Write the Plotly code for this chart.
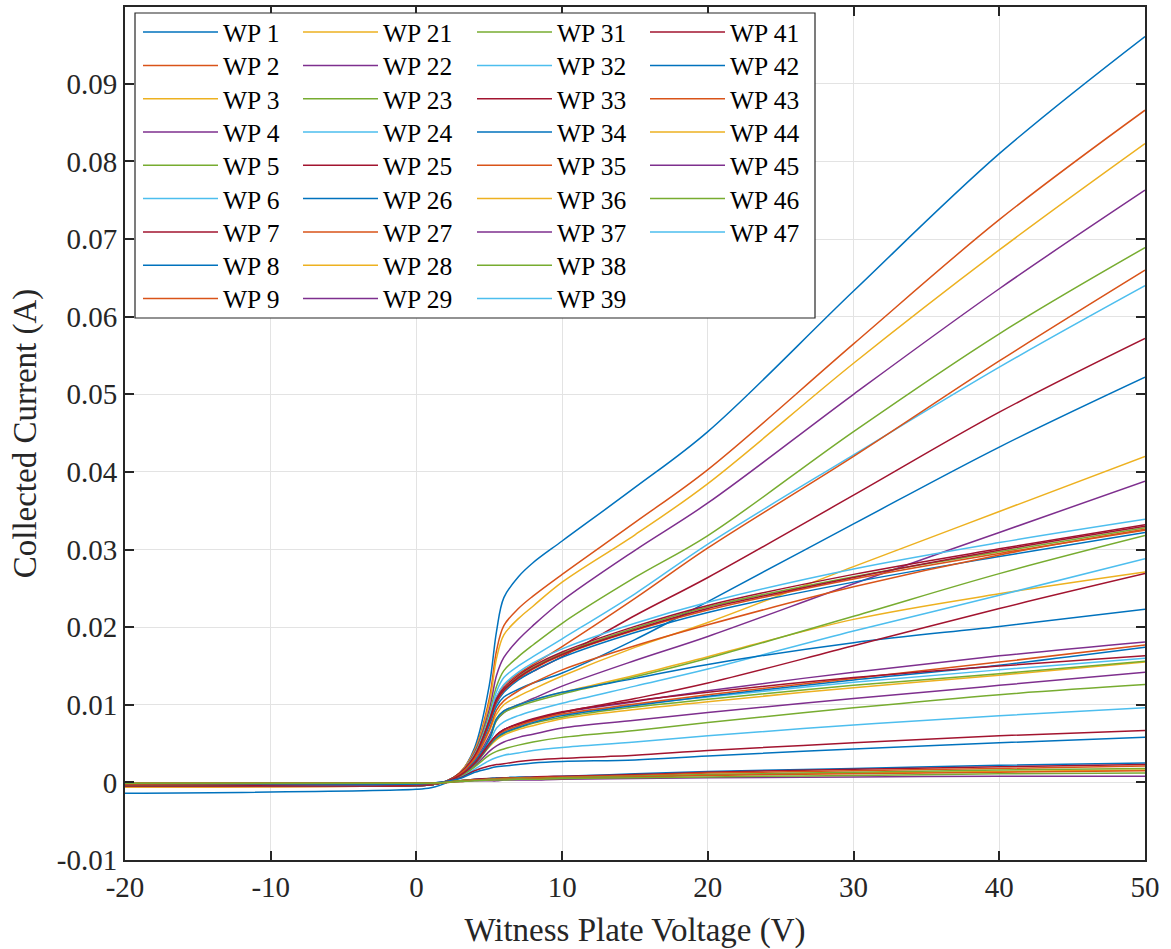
import plotly.graph_objects as go

# ---------------- data ----------------
VOLT = [-20, 0, 1, 2, 3, 4, 5, 5.5, 6, 7, 8, 10, 15, 20, 30, 40, 50]

wp1 = [-0.0014, -0.0009, -0.0007, -0.0001, 0.0012, 0.0045, 0.0125, 0.0195, 0.0238, 0.0265, 0.0283, 0.0311, 0.0380, 0.0452, 0.0633, 0.0810, 0.0961]
wp2 = [-0.0006, -0.0004, -0.0003, 0.0001, 0.0013, 0.0042, 0.0108, 0.0170, 0.0202, 0.0224, 0.0240, 0.0268, 0.0335, 0.0403, 0.0565, 0.0725, 0.0866]
wp3 = [-0.0006, -0.0004, -0.0003, 0.0001, 0.0013, 0.0041, 0.0102, 0.0160, 0.0190, 0.0211, 0.0227, 0.0258, 0.0319, 0.0385, 0.0540, 0.0686, 0.0823]
wp4 = [-0.0005, -0.0004, -0.0003, 0.0001, 0.0012, 0.0039, 0.0094, 0.0138, 0.0161, 0.0184, 0.0202, 0.0234, 0.0299, 0.0360, 0.0500, 0.0636, 0.0763]
wp5 = [-0.0005, -0.0004, -0.0003, 0.0001, 0.0012, 0.0037, 0.0088, 0.0124, 0.0144, 0.0162, 0.0177, 0.0205, 0.0264, 0.0318, 0.0452, 0.0578, 0.0689]
wp6 = [-0.0005, -0.0004, -0.0003, 0.0001, 0.0012, 0.0036, 0.0084, 0.0117, 0.0135, 0.0150, 0.0162, 0.0185, 0.0243, 0.0307, 0.0422, 0.0535, 0.0640]
wp7 = [-0.0005, -0.0004, -0.0003, 0.0001, 0.0011, 0.0034, 0.0078, 0.0106, 0.0120, 0.0133, 0.0143, 0.0162, 0.0215, 0.0264, 0.0370, 0.0477, 0.0572]
wp8 = [-0.0005, -0.0004, -0.0003, 0.0001, 0.0011, 0.0032, 0.0073, 0.0098, 0.0110, 0.0120, 0.0128, 0.0141, 0.0184, 0.0233, 0.0333, 0.0432, 0.0522]
wp9 = [-0.0005, -0.0004, -0.0003, 0.0001, 0.0012, 0.0035, 0.0080, 0.0110, 0.0125, 0.0140, 0.0152, 0.0175, 0.0237, 0.0302, 0.0420, 0.0543, 0.0660]

wp21 = [-0.0004, -0.0003, -0.0002, 0.0001, 0.0011, 0.0030, 0.0066, 0.0088, 0.0100, 0.0111, 0.0120, 0.0137, 0.0174, 0.0206, 0.0278, 0.0349, 0.0420]
wp22 = [-0.0004, -0.0003, -0.0002, 0.0001, 0.0010, 0.0028, 0.0060, 0.0080, 0.0090, 0.0100, 0.0108, 0.0124, 0.0157, 0.0188, 0.0256, 0.0322, 0.0388]
wp23 = [-0.0005, -0.0004, -0.0003, 0.0001, 0.0012, 0.0034, 0.0079, 0.0106, 0.0120, 0.0136, 0.0148, 0.0166, 0.0199, 0.0226, 0.0265, 0.0297, 0.0328]
wp24 = [-0.0005, -0.0004, -0.0003, 0.0001, 0.0012, 0.0035, 0.0082, 0.0111, 0.0126, 0.0142, 0.0154, 0.0172, 0.0205, 0.0232, 0.0275, 0.0309, 0.0339]
wp25 = [-0.0005, -0.0004, -0.0003, 0.0001, 0.0012, 0.0034, 0.0080, 0.0108, 0.0122, 0.0138, 0.0150, 0.0168, 0.0201, 0.0228, 0.0268, 0.0301, 0.0332]
wp26 = [-0.0005, -0.0004, -0.0003, 0.0001, 0.0012, 0.0033, 0.0077, 0.0102, 0.0116, 0.0132, 0.0143, 0.0161, 0.0193, 0.0219, 0.0258, 0.0291, 0.0322]
wp27 = [-0.0005, -0.0004, -0.0003, 0.0001, 0.0012, 0.0034, 0.0078, 0.0104, 0.0118, 0.0134, 0.0146, 0.0164, 0.0196, 0.0222, 0.0262, 0.0295, 0.0325]
wp28 = [-0.0004, -0.0003, -0.0002, 0.0001, 0.0010, 0.0027, 0.0056, 0.0082, 0.0092, 0.0100, 0.0106, 0.0116, 0.0138, 0.0162, 0.0210, 0.0243, 0.0271]
wp29 = [-0.0003, -0.0002, -0.0002, 0.0001, 0.0009, 0.0025, 0.0050, 0.0061, 0.0068, 0.0075, 0.0081, 0.0090, 0.0104, 0.0118, 0.0142, 0.0163, 0.0181]

wp31 = [-0.0004, -0.0003, -0.0002, 0.0001, 0.0010, 0.0027, 0.0055, 0.0080, 0.0090, 0.0098, 0.0104, 0.0114, 0.0136, 0.0160, 0.0214, 0.0269, 0.0318]
wp32 = [-0.0004, -0.0003, -0.0002, 0.0001, 0.0009, 0.0026, 0.0052, 0.0070, 0.0078, 0.0086, 0.0092, 0.0102, 0.0124, 0.0146, 0.0195, 0.0241, 0.0288]
wp33 = [-0.0005, -0.0004, -0.0003, 0.0001, 0.0012, 0.0034, 0.0079, 0.0106, 0.0119, 0.0135, 0.0147, 0.0165, 0.0197, 0.0224, 0.0264, 0.0299, 0.0330]
wp34 = [-0.0004, -0.0003, -0.0002, 0.0001, 0.0010, 0.0027, 0.0056, 0.0082, 0.0092, 0.0100, 0.0106, 0.0116, 0.0134, 0.0152, 0.0180, 0.0201, 0.0223]
wp35 = [-0.0004, -0.0003, -0.0002, 0.0001, 0.0011, 0.0031, 0.0068, 0.0093, 0.0105, 0.0118, 0.0128, 0.0145, 0.0176, 0.0203, 0.0252, 0.0293, 0.0326]
wp36 = [-0.0003, -0.0002, -0.0002, 0.0001, 0.0008, 0.0023, 0.0046, 0.0055, 0.0061, 0.0068, 0.0073, 0.0082, 0.0094, 0.0104, 0.0122, 0.0138, 0.0155]
wp37 = [-0.0003, -0.0002, -0.0002, 0.0001, 0.0008, 0.0021, 0.0040, 0.0047, 0.0052, 0.0058, 0.0062, 0.0070, 0.0080, 0.0090, 0.0108, 0.0125, 0.0142]
wp38 = [-0.0003, -0.0002, -0.0002, 0.0001, 0.0008, 0.0023, 0.0047, 0.0057, 0.0063, 0.0070, 0.0076, 0.0084, 0.0097, 0.0107, 0.0125, 0.0140, 0.0156]
wp39 = [-0.0003, -0.0002, -0.0002, 0.0001, 0.0008, 0.0024, 0.0048, 0.0059, 0.0065, 0.0072, 0.0078, 0.0087, 0.0100, 0.0110, 0.0129, 0.0145, 0.0160]

wp41 = [-0.0004, -0.0003, -0.0002, 0.0001, 0.0009, 0.0024, 0.0048, 0.0061, 0.0068, 0.0075, 0.0080, 0.0090, 0.0108, 0.0128, 0.0176, 0.0224, 0.0269]
wp42 = [-0.0003, -0.0002, -0.0002, 0.0001, 0.0008, 0.0024, 0.0048, 0.0058, 0.0064, 0.0071, 0.0077, 0.0086, 0.0099, 0.0111, 0.0132, 0.0151, 0.0174]
wp43 = [-0.0003, -0.0002, -0.0002, 0.0001, 0.0009, 0.0025, 0.0049, 0.0060, 0.0066, 0.0073, 0.0079, 0.0088, 0.0101, 0.0113, 0.0134, 0.0155, 0.0177]
wp44 = [-0.0001, -0.0001, -0.0001, 0.0000, 0.0002, 0.0003, 0.0004, 0.0004, 0.0004, 0.0005, 0.0005, 0.0006, 0.0008, 0.0010, 0.0012, 0.0014, 0.0016]
wp45 = [-0.0001, -0.0001, -0.0001, 0.0000, 0.0001, 0.0002, 0.0002, 0.0002, 0.0003, 0.0003, 0.0003, 0.0004, 0.0005, 0.0006, 0.0007, 0.0008, 0.0008]
wp46 = [-0.0003, -0.0002, -0.0002, 0.0001, 0.0007, 0.0020, 0.0035, 0.0040, 0.0043, 0.0048, 0.0052, 0.0058, 0.0067, 0.0077, 0.0096, 0.0113, 0.0126]
wp47 = [-0.0002, -0.0002, -0.0001, 0.0001, 0.0006, 0.0017, 0.0028, 0.0032, 0.0035, 0.0038, 0.0041, 0.0045, 0.0052, 0.0060, 0.0074, 0.0086, 0.0096]

# further curves visible in the plot that have no legend entry
extra_darkred_a = [-0.0003, -0.0002, -0.0002, 0.0001, 0.0009, 0.0025, 0.0050, 0.0061, 0.0068, 0.0076, 0.0082, 0.0091, 0.0105, 0.0116, 0.0135, 0.0150, 0.0163]
extra_darkred_b = [-0.0002, -0.0001, -0.0001, 0.0001, 0.0006, 0.0015, 0.0021, 0.0023, 0.0024, 0.0027, 0.0029, 0.0031, 0.0035, 0.0041, 0.0051, 0.0060, 0.0067]
extra_blue_a = [-0.0002, -0.0001, -0.0001, 0.0001, 0.0005, 0.0013, 0.0018, 0.0020, 0.0021, 0.0023, 0.0025, 0.0027, 0.0029, 0.0034, 0.0043, 0.0051, 0.0058]
extra_blue_b = [-0.0002, -0.0002, -0.0001, 0.0000, 0.0002, 0.0004, 0.0005, 0.0006, 0.0006, 0.0007, 0.0007, 0.0008, 0.0011, 0.0014, 0.0018, 0.0022, 0.0025]
extra_darkred_c = [-0.0002, -0.0001, -0.0001, 0.0000, 0.0002, 0.0004, 0.0005, 0.0005, 0.0006, 0.0006, 0.0007, 0.0008, 0.0010, 0.0013, 0.0017, 0.0020, 0.0023]
extra_orange_a = [-0.0002, -0.0001, -0.0001, 0.0000, 0.0002, 0.0003, 0.0004, 0.0005, 0.0005, 0.0006, 0.0006, 0.0007, 0.0009, 0.0012, 0.0015, 0.0018, 0.0021]
extra_green_a = [-0.0001, -0.0001, -0.0001, 0.0000, 0.0002, 0.0003, 0.0004, 0.0004, 0.0005, 0.0005, 0.0005, 0.0006, 0.0008, 0.0010, 0.0013, 0.0016, 0.0018]
extra_orange_b = [-0.0001, -0.0001, -0.0001, 0.0000, 0.0001, 0.0003, 0.0003, 0.0004, 0.0004, 0.0004, 0.0005, 0.0005, 0.0007, 0.0009, 0.0011, 0.0013, 0.0015]
extra_green_b = [-0.0001, -0.0001, -0.0001, 0.0000, 0.0001, 0.0002, 0.0003, 0.0003, 0.0003, 0.0004, 0.0004, 0.0005, 0.0006, 0.0007, 0.0009, 0.0011, 0.0012]

X_TICKS = [-20, -10, 0, 10, 20, 30, 40, 50]
X_TICK_TEXT = ["-20", "-10", "0", "10", "20", "30", "40", "50"]
Y_TICKS = [-0.01, 0, 0.01, 0.02, 0.03, 0.04, 0.05, 0.06, 0.07, 0.08, 0.09]
Y_TICK_TEXT = ["-0.01", "0", "0.01", "0.02", "0.03", "0.04", "0.05", "0.06", "0.07", "0.08", "0.09"]

# ---------------- styling ----------------
BLUE, ORANGE, YELLOW, PURPLE = "#0072BD", "#D95319", "#EDB120", "#7E2F8E"
GREEN, LBLUE, DRED = "#77AC30", "#4DBEEE", "#A2142F"
FONT = "Liberation Serif, Times New Roman, serif"

legend_cols = [
    [("WP 1", wp1, BLUE), ("WP 2", wp2, ORANGE), ("WP 3", wp3, YELLOW),
     ("WP 4", wp4, PURPLE), ("WP 5", wp5, GREEN), ("WP 6", wp6, LBLUE),
     ("WP 7", wp7, DRED), ("WP 8", wp8, BLUE), ("WP 9", wp9, ORANGE)],
    [("WP 21", wp21, YELLOW), ("WP 22", wp22, PURPLE), ("WP 23", wp23, GREEN),
     ("WP 24", wp24, LBLUE), ("WP 25", wp25, DRED), ("WP 26", wp26, BLUE),
     ("WP 27", wp27, ORANGE), ("WP 28", wp28, YELLOW), ("WP 29", wp29, PURPLE)],
    [("WP 31", wp31, GREEN), ("WP 32", wp32, LBLUE), ("WP 33", wp33, DRED),
     ("WP 34", wp34, BLUE), ("WP 35", wp35, ORANGE), ("WP 36", wp36, YELLOW),
     ("WP 37", wp37, PURPLE), ("WP 38", wp38, GREEN), ("WP 39", wp39, LBLUE)],
    [("WP 41", wp41, DRED), ("WP 42", wp42, BLUE), ("WP 43", wp43, ORANGE),
     ("WP 44", wp44, YELLOW), ("WP 45", wp45, PURPLE), ("WP 46", wp46, GREEN),
     ("WP 47", wp47, LBLUE)],
]
extras = [(extra_darkred_a, DRED), (extra_darkred_b, DRED), (extra_blue_a, BLUE),
          (extra_blue_b, BLUE), (extra_darkred_c, DRED), (extra_orange_a, ORANGE),
          (extra_green_a, GREEN), (extra_orange_b, ORANGE), (extra_green_b, GREEN)]

LINE = dict(width=1.5, shape="spline", smoothing=1.0)

L, R, T, B = 125, 26, 7, 89
W, H = 1171, 949
PW, PH = W - L - R, H - T - B


def px(xp):
    return (xp - L) / PW


def py(yp):
    return (H - B - yp) / PH


legend_style = dict(font=dict(family=FONT, size=25.5, color="#000000"), bgcolor="rgba(0,0,0,0)",
                    borderwidth=0, itemwidth=75, xanchor="left", yanchor="top", tracegroupgap=0)
col_x = [138, 298, 472, 645]          # legend column positions (px)
row_top0, row_pitch = 9, 33.3         # legend row layout (px)

fig = go.Figure()
layout_leg = {}
k = 0
for c, items in enumerate(legend_cols):
    for r, (name, vals, col) in enumerate(items):
        key = "legend" if k == 0 else f"legend{k + 1}"
        layout_leg[key] = dict(x=px(col_x[c]), y=py(row_top0 + r * row_pitch), **legend_style)
        fig.add_trace(go.Scatter(x=VOLT, y=vals, name=name, mode="lines", legend=key,
                                 line=dict(color=col, **LINE)))
        k += 1
for vals, col in extras:
    fig.add_trace(go.Scatter(x=VOLT, y=vals, mode="lines", showlegend=False,
                             line=dict(color=col, **LINE)))

axis_common = dict(showline=True, linecolor="#262626", linewidth=2, mirror="ticks",
                   ticks="inside", ticklen=9, tickwidth=2, tickcolor="#262626",
                   showgrid=True, gridcolor="#e3e3e3", gridwidth=1, zeroline=False,
                   tickfont=dict(family=FONT, size=29, color="#262626"))

fig.update_xaxes(range=[-20, 50], tickvals=X_TICKS, ticktext=X_TICK_TEXT,
                 title=dict(text="Witness Plate Voltage (V)", font=dict(family=FONT, size=33, color="#262626"), standoff=16),
                 **axis_common)
fig.update_yaxes(range=[-0.01, 0.0999], tickvals=Y_TICKS, ticktext=Y_TICK_TEXT,
                 title=dict(text="Collected Current (A)", font=dict(family=FONT, size=33, color="#262626"), standoff=10),
                 **axis_common)

fig.update_layout(
    width=W, height=H, margin=dict(l=L, r=R, t=T, b=B, autoexpand=False),
    paper_bgcolor="white", plot_bgcolor="white",
    shapes=[dict(type="rect", xref="paper", yref="paper", x0=px(135), x1=px(815), y0=py(318), y1=py(13),
                 fillcolor="white", line=dict(color="#262626", width=1.2), layer="above")],
    **layout_leg,
)

fig.write_html("out.html")
